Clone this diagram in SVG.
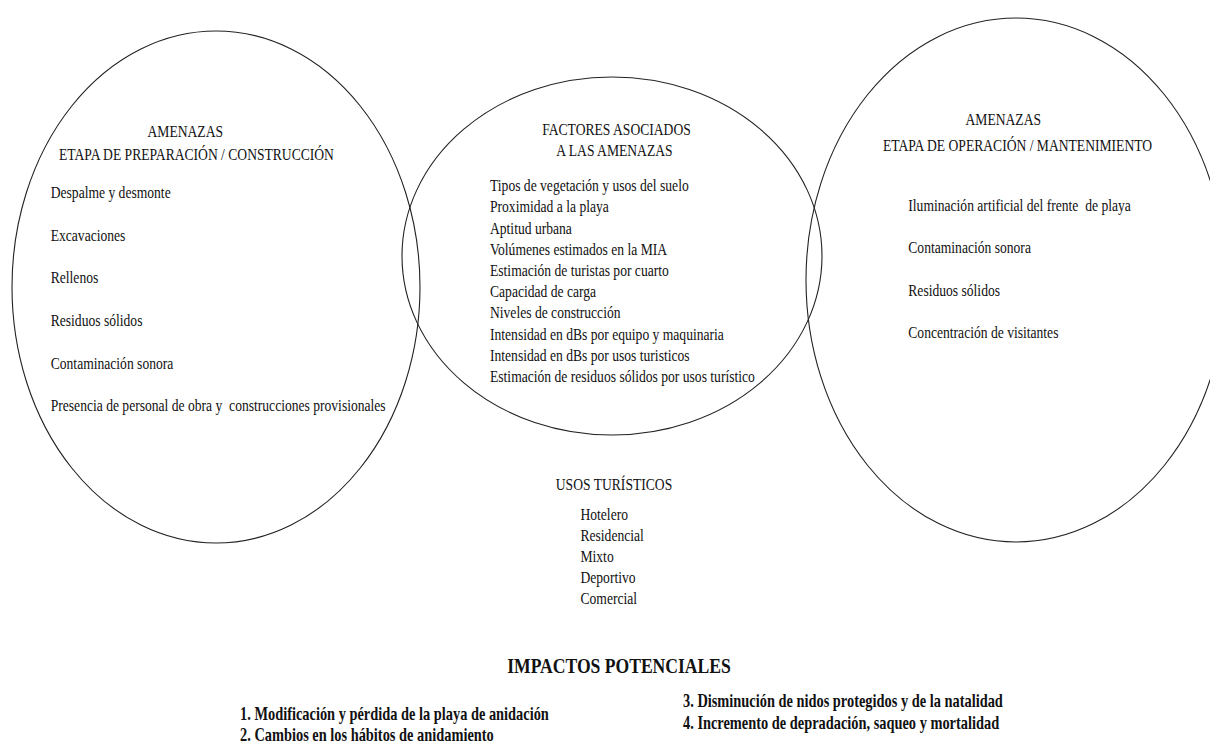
<svg xmlns="http://www.w3.org/2000/svg" width="1210" height="744" viewBox="0 0 1210 744">
<style>
.bg{fill:#ffffff}
.ell{fill:none;stroke:#222;stroke-width:1.1}
.t{font-family:'Liberation Serif','Times New Roman',Tinos,'DejaVu Serif',serif;font-size:17px;fill:#111}
.m{text-anchor:middle}
.b{font-family:'Liberation Serif','Times New Roman',Tinos,'DejaVu Serif',serif;font-weight:bold;font-size:18px;fill:#111}
.h{font-family:'Liberation Serif','Times New Roman',Tinos,'DejaVu Serif',serif;font-weight:bold;font-size:22px;fill:#111;text-anchor:middle}
</style>
<rect class="bg" x="0" y="0" width="1210" height="744"/>
<g id="preparacion">
<ellipse class="ell" cx="216" cy="287" rx="204" ry="256"/>
<g transform="scale(0.8,1)">
<text class="t m" x="231.6" y="137">AMENAZAS</text>
<text class="t m" x="245.6" y="160">ETAPA DE PREPARACIÓN / CONSTRUCCIÓN</text>
<text class="t" x="63.4" y="198">Despalme y desmonte</text>
<text class="t" x="63.4" y="240.7">Excavaciones</text>
<text class="t" x="63.4" y="283.4">Rellenos</text>
<text class="t" x="63.4" y="326.1">Residuos sólidos</text>
<text class="t" x="63.4" y="368.8">Contaminación sonora</text>
<text class="t" x="63.4" y="411.5" xml:space="preserve">Presencia de personal de obra y  construcciones provisionales</text>
</g>
</g>
<g id="factores">
<ellipse class="ell" cx="612" cy="256" rx="210" ry="179"/>
<g transform="scale(0.8,1)">
<text class="t m" x="770.6" y="134.6">FACTORES ASOCIADOS</text>
<text class="t m" x="768.1" y="156.3">A LAS AMENAZAS</text>
<text class="t" x="612.5" y="191.3">Tipos de vegetación y usos del suelo</text>
<text class="t" x="612.5" y="212.5">Proximidad a la playa</text>
<text class="t" x="612.5" y="233.7">Aptitud urbana</text>
<text class="t" x="612.5" y="254.9">Volúmenes estimados en la MIA</text>
<text class="t" x="612.5" y="276.1">Estimación de turistas por cuarto</text>
<text class="t" x="612.5" y="297.3">Capacidad de carga</text>
<text class="t" x="612.5" y="318.5">Niveles de construcción</text>
<text class="t" x="612.5" y="339.7">Intensidad en dBs por equipo y maquinaria</text>
<text class="t" x="612.5" y="360.9">Intensidad en dBs por usos turisticos</text>
<text class="t" x="612.5" y="382.1">Estimación de residuos sólidos por usos turístico</text>
</g>
</g>
<g id="operacion">
<ellipse class="ell" cx="1016" cy="280" rx="210" ry="262"/>
<g transform="scale(0.8,1)">
<text class="t m" x="1254.1" y="124.6">AMENAZAS</text>
<text class="t m" x="1271.9" y="151.3">ETAPA DE OPERACIÓN / MANTENIMIENTO</text>
<text class="t" x="1135.4" y="210.6" xml:space="preserve">Iluminación artificial del frente  de playa</text>
<text class="t" x="1135.4" y="253.1">Contaminación sonora</text>
<text class="t" x="1135.4" y="295.6">Residuos sólidos</text>
<text class="t" x="1135.4" y="338.1">Concentración de visitantes</text>
</g>
</g>
<g id="usos">
<g transform="scale(0.8,1)">
<text class="t m" x="767.5" y="489.6">USOS TURÍSTICOS</text>
<text class="t" x="725.6" y="519.6">Hotelero</text>
<text class="t" x="725.6" y="540.7">Residencial</text>
<text class="t" x="725.6" y="561.8">Mixto</text>
<text class="t" x="725.6" y="582.9">Deportivo</text>
<text class="t" x="725.6" y="604">Comercial</text>
</g>
</g>
<g id="impactos">
<g transform="scale(0.8,1)">
<text class="h" x="773.75" y="673">IMPACTOS POTENCIALES</text>
<text class="b" x="300" y="720.5">1. Modificación y pérdida de la playa de anidación</text>
<text class="b" x="300" y="741.5">2. Cambios en los hábitos de anidamiento</text>
<text class="b" x="853.75" y="707">3. Disminución de nidos protegidos y de la natalidad</text>
<text class="b" x="853.75" y="729">4. Incremento de depradación, saqueo y mortalidad</text>
</g>
</g>
</svg>
